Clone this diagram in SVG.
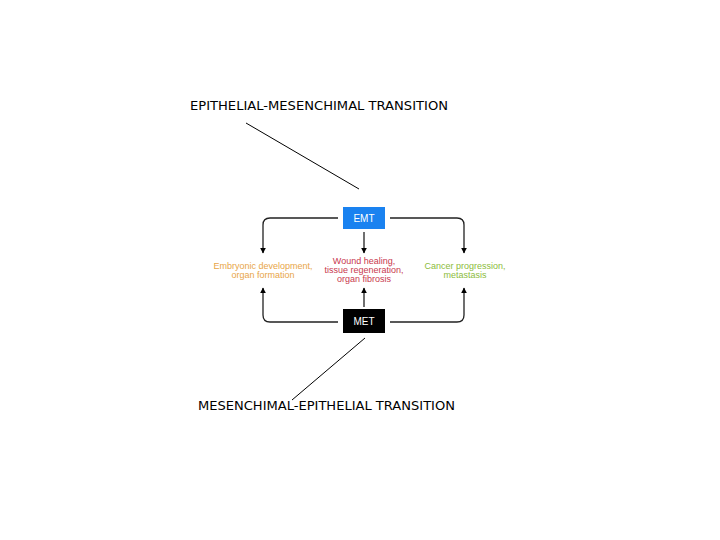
<svg xmlns="http://www.w3.org/2000/svg" width="720" height="540" viewBox="0 0 720 540">
<style>
.cap{font-family:"DejaVu Sans","Liberation Sans",sans-serif;font-size:12px;fill:#000}
.lbl{font-family:"Liberation Sans",Arial,sans-serif;font-size:9px;text-anchor:middle}
.box{font-family:"Liberation Sans",Arial,sans-serif;font-size:10px;fill:#fff;text-anchor:middle}
.flow{fill:none;stroke:#222;stroke-width:1.3}
.lead{fill:none;stroke:#000;stroke-width:1}
</style>
<defs>
<marker id="ah" viewBox="0 0 10 10" refX="9" refY="5" markerWidth="6" markerHeight="6" orient="auto" markerUnits="userSpaceOnUse">
<path d="M0,0 L10,5 L0,10 z" fill="#000"/>
</marker>
</defs>
<rect width="720" height="540" fill="#fff"/>
<g id="connectors">
<line class="lead" x1="246" y1="123" x2="359" y2="189"/>
<line class="lead" x1="365" y1="338" x2="292" y2="400"/>
<path class="flow" d="M338,218 H270 Q263,218 263,225 V253" marker-end="url(#ah)"/>
<path class="flow" d="M390,218 H457 Q464,218 464,225 V253" marker-end="url(#ah)"/>
<path class="flow" d="M364,232 V253" marker-end="url(#ah)"/>
<path class="flow" d="M338,322 H270 Q263,322 263,315 V288" marker-end="url(#ah)"/>
<path class="flow" d="M390,322 H457 Q464,322 464,315 V288" marker-end="url(#ah)"/>
<path class="flow" d="M364,307 V288" marker-end="url(#ah)"/>
</g>
<g id="caption-emt"><text class="cap" x="190" y="110" textLength="258" lengthAdjust="spacingAndGlyphs">EPITHELIAL-MESENCHIMAL TRANSITION</text></g>
<g id="caption-met"><text class="cap" x="198" y="410" textLength="257" lengthAdjust="spacingAndGlyphs">MESENCHIMAL-EPITHELIAL TRANSITION</text></g>
<g id="emt"><rect x="343" y="207" width="42" height="22" fill="#1a82f0"/><text class="box" x="364" y="222">EMT</text></g>
<g id="met"><rect x="343" y="309" width="42" height="24" fill="#000"/><text class="box" x="364" y="325">MET</text></g>
<g id="embryonic" fill="#e8a548"><text class="lbl" x="263" y="269">Embryonic development,</text><text class="lbl" x="263" y="278">organ formation</text></g>
<g id="wound" fill="#c8384e"><text class="lbl" x="364" y="264">Wound healing,</text><text class="lbl" x="364" y="273">tissue regeneration,</text><text class="lbl" x="364" y="282">organ fibrosis</text></g>
<g id="cancer" fill="#8cbc3c"><text class="lbl" x="465" y="269">Cancer progression,</text><text class="lbl" x="465" y="278">metastasis</text></g>
</svg>
